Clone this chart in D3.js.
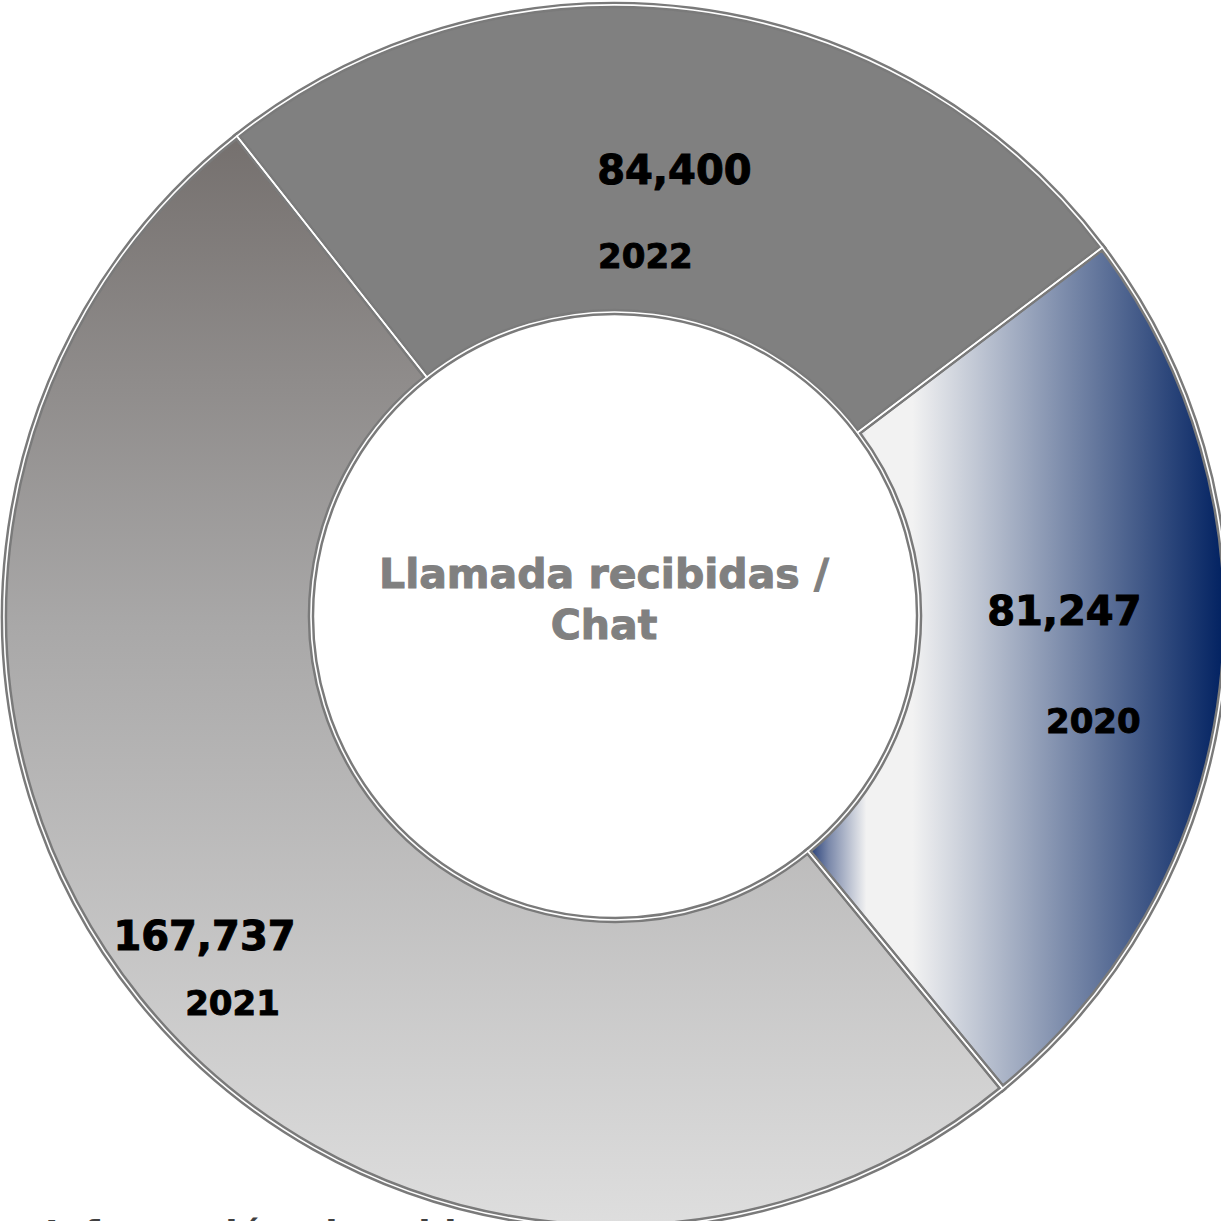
<!DOCTYPE html>
<html>
    <head>
        <meta charset="utf-8">
        <script src="https://d3js.org/d3.v7.min.js"></script>
        <style>
            body { margin: 0; background: #fff; }
            svg { display: block; }
        </style>
    </head>
    <body>
        <script>
            // chart data
            let years = ["2020", "2021", "2022"];
            let values = [81247, 167737, 84400];
            let centerLines = ["Llamada recibidas /", "Chat"];
            let footText = "Información obtenida";

            // label offsets from slice centroid: [value dx, value dy, year dx, year dy]
            let labelOffsets = [
                [-5, -45, 24, 63],
                [-54, 47, -26, 112],
                [1, 22, -28, 106]
            ];

            var width = 1221;
            var height = 1221;
            var cx = 615, cy = 616;
            var outerR = 611, innerR = 304;

            var svg = d3.select('body').append('svg')
                .attr('width', width)
                .attr('height', height);

            var defs = svg.append('defs');

            // 2020: horizontal navy/white gradient
            var g2020 = defs.append('linearGradient')
                .attr('id', 'grad2020')
                .attr('x1', 0).attr('y1', 0).attr('x2', 1).attr('y2', 0);
            [[0, "#1c3672"], [0.05, "#7a88aa"], [0.14, "#f2f2f2"], [0.25, "#f2f2f2"], [1, "#002060"]]
                .forEach(function (s) {
                    g2020.append('stop').attr('offset', s[0]).attr('stop-color', s[1]);
                });

            // 2021: vertical gray gradient
            var g2021 = defs.append('linearGradient')
                .attr('id', 'grad2021')
                .attr('x1', 0).attr('y1', 0).attr('x2', 0).attr('y2', 1);
            [[0, "#75706e"], [0.45, "#a9a8a8"], [1, "#dedede"]]
                .forEach(function (s) {
                    g2021.append('stop').attr('offset', s[0]).attr('stop-color', s[1]);
                });

            var fills = ["url(#grad2020)", "url(#grad2021)", "#808080"];

            // footer text, mostly hidden below the chart
            svg.append('text')
                .attr('x', 45)
                .attr('y', 1246)
                .attr('font-family', 'DejaVu Sans')
                .attr('font-weight', 'bold')
                .attr('font-size', 36)
                .attr('fill', '#404040')
                .text(footText);

            var startA = 52.9 * Math.PI / 180;
            var pie = d3.pie()
                .sort(null)
                .value(function (d) { return d; })
                .startAngle(startA)
                .endAngle(startA + 2 * Math.PI);

            var arc = d3.arc()
                .innerRadius(innerR)
                .outerRadius(outerR);

            var arcs = pie(values);

            var g = svg.append('g')
                .attr('transform', 'translate(' + cx + ',' + cy + ')');

            g.selectAll('path.slice')
                .data(arcs)
                .enter()
                .append('path')
                .attr('class', 'slice')
                .attr('d', arc)
                .attr('fill', function (d, i) { return fills[i]; });

            // double border: gray line with white core
            g.selectAll('path.border')
                .data(arcs)
                .enter()
                .append('path')
                .attr('class', 'border')
                .attr('d', arc)
                .attr('fill', 'none')
                .attr('stroke', '#7a7a7a')
                .attr('stroke-width', 6.5)
                .attr('stroke-linejoin', 'miter');

            g.selectAll('path.core')
                .data(arcs)
                .enter()
                .append('path')
                .attr('class', 'core')
                .attr('d', arc)
                .attr('fill', 'none')
                .attr('stroke', '#ffffff')
                .attr('stroke-width', 1.6);

            // labels
            arcs.forEach(function (d, i) {
                var c = arc.centroid(d);
                var o = labelOffsets[i];
                g.append('text')
                    .attr('x', c[0] + o[0])
                    .attr('y', c[1] + o[1])
                    .attr('text-anchor', 'middle')
                    .attr('font-family', 'DejaVu Sans')
                    .attr('font-weight', 'bold')
                    .attr('font-size', 40)
                    .attr('fill', '#000')
                    .attr('stroke', '#000')
                    .attr('stroke-width', 1)
                    .text(d3.format(',')(values[i]));
                g.append('text')
                    .attr('x', c[0] + o[2])
                    .attr('y', c[1] + o[3])
                    .attr('text-anchor', 'middle')
                    .attr('font-family', 'DejaVu Sans')
                    .attr('font-weight', 'bold')
                    .attr('font-size', 34)
                    .attr('fill', '#000')
                    .attr('stroke', '#000')
                    .attr('stroke-width', 0.9)
                    .text(years[i]);
            });

            // center title
            g.selectAll('text.center')
                .data(centerLines)
                .enter()
                .append('text')
                .attr('class', 'center')
                .attr('x', -11)
                .attr('y', function (d, i) { return -28 + i * 51; })
                .attr('text-anchor', 'middle')
                .attr('font-family', 'DejaVu Sans')
                .attr('font-weight', 'bold')
                .attr('font-size', 41)
                .attr('fill', '#808080')
                .attr('stroke', '#808080')
                .attr('stroke-width', 1)
                .text(function (d) { return d; });
        </script>
    </body>
</html>
